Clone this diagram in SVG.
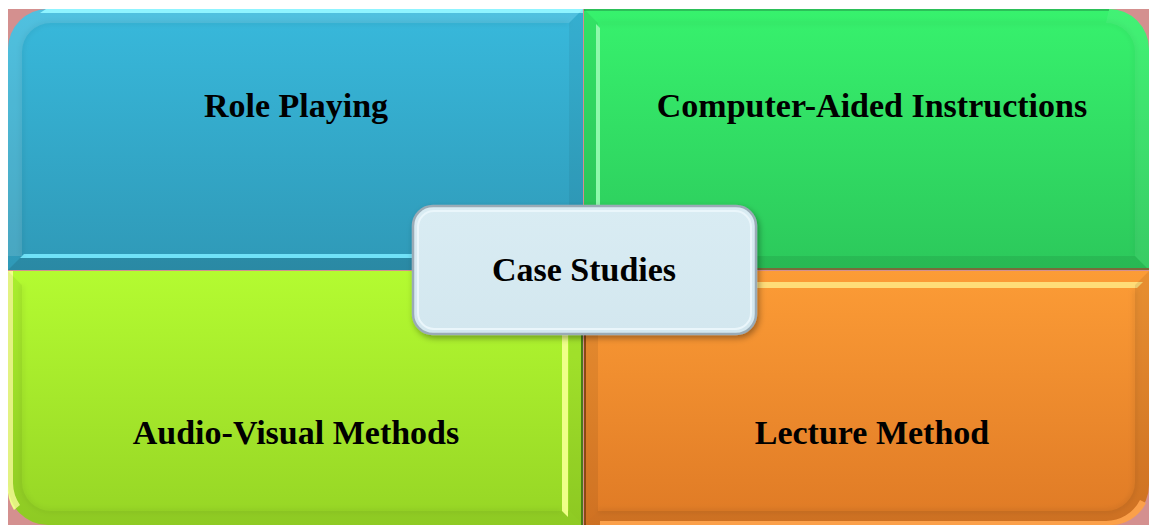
<svg xmlns="http://www.w3.org/2000/svg" width="1149" height="525" viewBox="0 0 1149 525">
  <style>
    .lbl { font-family: "Liberation Serif", "Times New Roman", serif; font-weight: bold; font-size: 34px; fill: #000; text-anchor: middle; }
    .hi { fill: #ffffff; }
    .lo { fill: #000000; }
  </style>
  <defs>
    <linearGradient id="gBlue" x1="0" y1="0" x2="0" y2="1">
      <stop offset="0" stop-color="#38b9dc"/>
      <stop offset="1" stop-color="#2f99b7"/>
    </linearGradient>
    <linearGradient id="gGreen" x1="0" y1="0" x2="0" y2="1">
      <stop offset="0" stop-color="#37f26d"/>
      <stop offset="1" stop-color="#2cc85b"/>
    </linearGradient>
    <linearGradient id="gLime" x1="0" y1="0" x2="0" y2="1">
      <stop offset="0" stop-color="#b4fb31"/>
      <stop offset="1" stop-color="#96d525"/>
    </linearGradient>
    <linearGradient id="gOrange" x1="0" y1="0" x2="0" y2="1">
      <stop offset="0" stop-color="#fc9c36"/>
      <stop offset="1" stop-color="#df7a25"/>
    </linearGradient>
    <linearGradient id="gCenter" x1="0" y1="0" x2="0" y2="1">
      <stop offset="0" stop-color="#d9ecf3"/>
      <stop offset="1" stop-color="#d3e7ef"/>
    </linearGradient>
    <filter id="shadow" x="-10%" y="-10%" width="125%" height="135%">
      <feDropShadow dx="2" dy="3" stdDeviation="3" flood-color="#000" flood-opacity="0.35"/>
    </filter>
    <filter id="soft" x="-5%" y="-5%" width="110%" height="110%">
      <feGaussianBlur stdDeviation="2.5"/>
    </filter>
  </defs>

  <!-- backing square visible behind the rounded outer corners -->
  <rect x="8" y="9" width="1141" height="516" fill="#d4908f"/>

  <!-- top-left quadrant -->
  <g id="role-playing">
    <path d="M8,270 V49 A40,40 0 0 1 48,9 H583 V270 Z" fill="url(#gBlue)"/>
    <!-- bevel faces -->
    <path d="M8,256 V49 A40,40 0 0 1 48,9 H583 L569,23 H51 A29,29 0 0 0 22,52 V256 Z" class="hi" opacity="0.12"/>
    <path d="M46,9 H583 V13 H40 Z" fill="#8ff4ff"/>
    <polygon points="569,23 583,9 583,270 569,256" class="lo" opacity="0.05"/>
    <polygon points="22,256 569,256 583,270 8,270" class="lo" opacity="0.1"/>
    <polygon points="24,254 568,254 568,258 20,258" fill="#70e2f8"/>
    <path d="M22,256 V52 A29,29 0 0 1 51,23 H569" fill="none" stroke="#000" stroke-opacity="0.08" stroke-width="3" filter="url(#soft)"/>
    <text class="lbl" x="296" y="117">Role Playing</text>
  </g>

  <!-- top-right quadrant -->
  <g id="computer-aided">
    <path d="M584,9 H1109 A40,40 0 0 1 1149,49 V270 H584 Z" fill="url(#gGreen)"/>
    <rect x="584" y="9" width="525" height="2" fill="#2cc059"/>
    <polygon points="584,9 598,23 598,256 584,270" class="lo" opacity="0.06"/>
    <polygon points="596,24 600,28 600,254 596,254" fill="#8ef9ab"/>
    <path d="M1106,23 A29,29 0 0 1 1135,52 V256 L1149,270 V49 A40,40 0 0 0 1109,9 Z" class="hi" opacity="0.06"/>
    <polygon points="598,256 1135,256 1149,270 584,270" class="lo" opacity="0.08"/>
    <rect x="584" y="268" width="565" height="2" fill="#7a6a3a"/>
    <path d="M598,23 H1106 A29,29 0 0 1 1135,52 V256" fill="none" stroke="#000" stroke-opacity="0.06" stroke-width="3" filter="url(#soft)"/>
    <text class="lbl" x="872" y="117">Computer-Aided Instructions</text>
  </g>

  <!-- bottom-left quadrant -->
  <g id="audio-visual">
    <path d="M8,271 H583 V525 H48 A40,40 0 0 1 8,485 Z" fill="url(#gLime)"/>
    <path d="M8,271 H13 V483 A40,40 0 0 0 20,505 L14,510 A40,40 0 0 1 8,485 Z" fill="#f0ff8a"/>
    <path d="M22,285 V482 A29,29 0 0 0 51,511 H569 L583,525 H48 A40,40 0 0 1 8,485 V271 Z" class="lo" opacity="0.05"/>
    <polygon points="569,285 583,271 583,525 569,511" class="lo" opacity="0.06"/>
    <polygon points="562,285 568,285 568,517 562,511" fill="#efff88"/>
    <rect x="581" y="271" width="2" height="254" fill="#4c7a1a"/>
    <path d="M22,285 V482 A29,29 0 0 0 51,511 H562" fill="none" stroke="#000" stroke-opacity="0.08" stroke-width="3" filter="url(#soft)"/>
    <text class="lbl" x="296" y="444">Audio-Visual Methods</text>
  </g>

  <!-- bottom-right quadrant -->
  <g id="lecture-method">
    <path d="M584,271 H1149 V485 A40,40 0 0 1 1109,525 H584 Z" fill="url(#gOrange)"/>
    <polygon points="584,271 598,285 598,511 584,525" class="lo" opacity="0.07"/>
    <rect x="584" y="271" width="2" height="254" fill="#8a4a14"/>
    <polygon points="598,282 1143,282 1137,288 598,288" fill="#ffdd78"/>
    <path d="M598,511 H1106 A29,29 0 0 0 1135,482 V285 L1149,271 V485 A40,40 0 0 1 1109,525 H584 Z" class="lo" opacity="0.08"/>
    <path d="M600,521 H1105 A38,38 0 0 0 1140,500 L1146,503 A40,40 0 0 1 1109,525 H600 Z" fill="#fba04a"/>
    <path d="M1135,290 V482 A29,29 0 0 1 1106,511 H598" fill="none" stroke="#000" stroke-opacity="0.1" stroke-width="3" filter="url(#soft)"/>
    <text class="lbl" x="872" y="444">Lecture Method</text>
  </g>

  <!-- centre node -->
  <g id="case-studies">
    <rect x="413" y="206" width="343" height="128" rx="20" fill="url(#gCenter)" stroke="#9aabb6" stroke-width="2.5" filter="url(#shadow)"/>
    <rect x="418" y="211" width="333" height="118" rx="16" fill="none" stroke="#eaf6fb" stroke-width="2"/>
    <text class="lbl" x="584" y="281">Case Studies</text>
  </g>

  <!-- no connectors in this matrix layout -->
  <g id="connectors"/>
</svg>
